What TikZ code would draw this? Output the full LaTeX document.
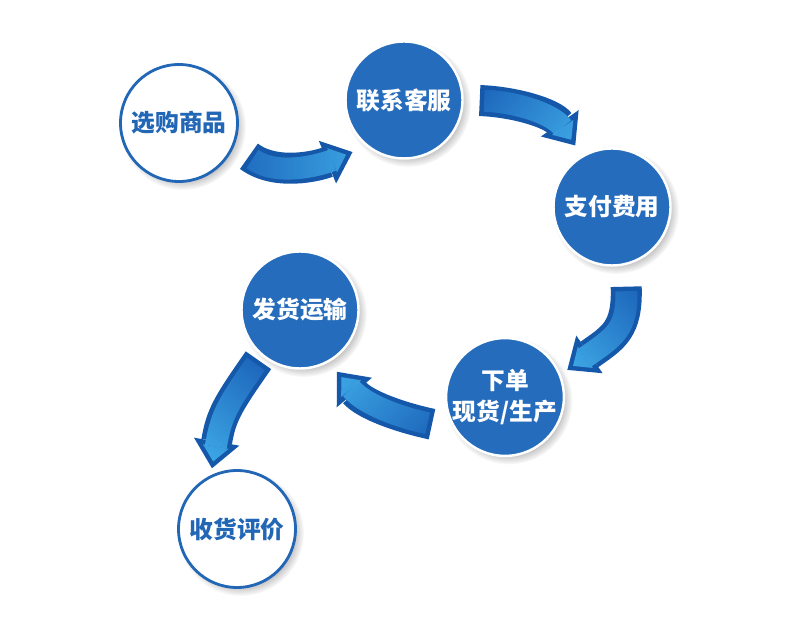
\documentclass[tikz,border=0pt]{standalone}
\usepackage{fontspec}
\usepackage{xcolor}
\usepackage{tikz}
\usetikzlibrary{arrows.meta, shadows, fadings}
\newfontfamily\cjk{Noto Sans CJK SC}
\definecolor{circblue}{RGB}{37, 108, 188}
\definecolor{ringblue}{RGB}{34, 102, 182}
\definecolor{flowdark}{RGB}{21, 88, 170}
\definecolor{flowmid}{RGB}{28, 100, 186}
\definecolor{flowbright}{RGB}{64, 172, 232}
\tikzfading[name=fade in, left color=transparent!100, right color=transparent!0]

\begin{document}
\begin{tikzpicture}[x=1cm, y=1cm,
  stepon/.style={circle, minimum size=2.34cm, inner sep=0pt, align=center,
    font=\cjk\bfseries\fontsize{13.5pt}{18pt}\selectfont,
    circular drop shadow={shadow scale=1.08, shadow xshift=2pt,
      shadow yshift=-2pt, opacity=0.45}},
  bluestep/.style={stepon, fill=circblue, draw=white, line width=1.4pt,
    text=white},
  whitestep/.style={stepon, fill=white, draw=ringblue, line width=1.6pt,
    text=ringblue},
  flow/.style n args={3}{draw=flowdark, line width=0.62cm,
    -{Triangle[width=0.92cm, length=0.54cm, line width=0pt]},
    shorten <=#1, shorten >=#2,
    postaction={draw=flowmid, line width=0.44cm,
      -{Triangle[width=0.52cm, length=0.3cm, line width=0pt]},
      shorten <=#1+0.09cm, shorten >=#2+0.14cm},
    postaction={draw=flowbright, line width=0.44cm,
      -{Triangle[width=0.52cm, length=0.3cm, line width=0pt]},
      shorten <=#1+0.09cm, shorten >=#2+0.14cm,
      path fading=fade in, fading angle=#3}}
]
\path[use as bounding box, fill=white] (0,0) rectangle (15.8, 12.82);
\node[whitestep] at (3.58, 10.36) (buy)     {选购商品};
\node[bluestep]  at (8.08, 10.82) (contact) {联系客服};
\node[bluestep]  at (12.24, 8.68) (pay)     {支付费用};
\node[bluestep]  at (10.10, 4.88) (order)   {下单\\现货/生产};
\node[bluestep]  at (6.00, 6.62)  (ship)    {发货运输};
\node[whitestep] at (4.74, 2.24)  (review)  {收货评价};
\draw[flow={0.36cm}{0.30cm}{0}] (buy.-22) to[out=-37, in=202] (contact.231);
\draw[flow={0.32cm}{0.24cm}{-25}] (contact.0) to[out=-2, in=125] (pay.120);
\draw[flow={0.43cm}{0.16cm}{-125}] (pay.-77) to[out=-88, in=35, looseness=1.3] (order.22);
\draw[flow={0.45cm}{0.25cm}{151}] (order.212) to[out=168, in=-50] (ship.-61);
\draw[flow={0.11cm}{0.14cm}{-113}] (ship.230) to[out=235, in=80, looseness=1.2] (review.116);
\end{tikzpicture}
\end{document}
